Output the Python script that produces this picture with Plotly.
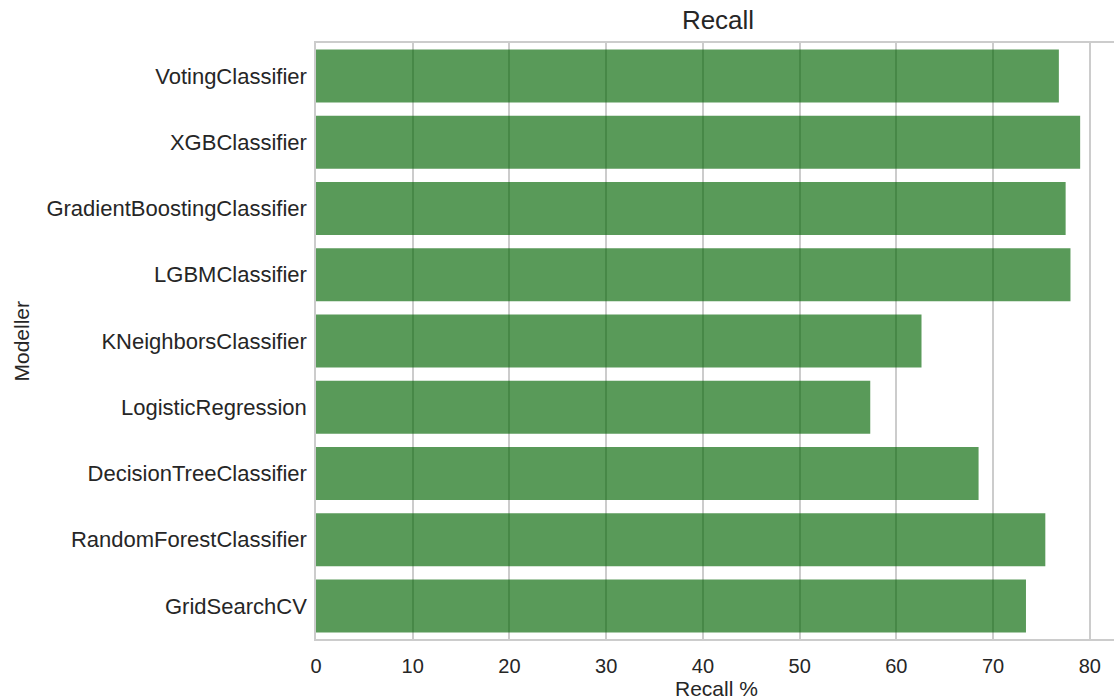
import plotly.graph_objects as go

# Recall scores (%) per model, top to bottom
models = [
    "VotingClassifier",
    "XGBClassifier",
    "GradientBoostingClassifier",
    "LGBMClassifier",
    "KNeighborsClassifier",
    "LogisticRegression",
    "DecisionTreeClassifier",
    "RandomForestClassifier",
    "GridSearchCV",
]
recall = [76.8, 79.0, 77.5, 78.0, 62.6, 57.3, 68.5, 75.4, 73.4]
x_ticks = [0, 10, 20, 30, 40, 50, 60, 70, 80]

W, H = 1114, 700
L, T, B, R = 316, 43, 61, 0
FONT = "Liberation Sans, Arial, sans-serif"
TXT = "#262626"
GRID = "#cccccc"

fig = go.Figure(
    go.Bar(
        x=recall,
        y=models,
        orientation="h",
        width=0.8,
        marker=dict(color="rgba(0,100,0,0.65)", line=dict(width=0)),
        hoverinfo="x+y",
    )
)

fig.update_layout(
    width=W,
    height=H,
    margin=dict(l=L, r=R, t=T, b=B, autoexpand=False),
    paper_bgcolor="white",
    plot_bgcolor="white",
    showlegend=False,
    font=dict(family=FONT, color=TXT, size=21),
    title=dict(
        text="Recall",
        x=718 / W,
        xref="container",
        xanchor="center",
        y=1 - 20 / H,
        yref="container",
        yanchor="middle",
        font=dict(size=26, color=TXT, family=FONT),
    ),
    bargap=0.2,
)

fig.update_xaxes(
    range=[0, 82.5],
    tickvals=x_ticks,
    ticktext=[str(v) for v in x_ticks],
    showgrid=True,
    gridcolor=GRID,
    gridwidth=1.5,
    zeroline=False,
    showline=True,
    linecolor=GRID,
    linewidth=1.5,
    mirror=True,
    ticks="",
    ticklabelstandoff=8,
    tickfont=dict(size=20, color=TXT),
)

fig.update_yaxes(
    categoryorder="array",
    categoryarray=models,
    range=[8.5, -0.5],
    showgrid=False,
    zeroline=False,
    showline=True,
    linecolor=GRID,
    linewidth=1.5,
    mirror=True,
    ticks="",
    ticklabelstandoff=3,
    tickfont=dict(size=22, color=TXT),
)

# axis titles
fig.add_annotation(
    text="Recall %",
    xref="paper", yref="paper",
    x=(716 - L) / (W - L - R),
    y=-(688 - (H - B)) / (H - T - B),
    xanchor="center", yanchor="middle",
    showarrow=False,
    font=dict(size=21, color=TXT, family=FONT),
)
fig.add_annotation(
    text="Modeller",
    xref="paper", yref="paper",
    x=(20.5 - L) / (W - L - R),
    y=1 - (341 - T) / (H - T - B),
    xanchor="center", yanchor="middle",
    textangle=-90,
    showarrow=False,
    font=dict(size=21, color=TXT, family=FONT),
)

fig.write_html("out.html")
